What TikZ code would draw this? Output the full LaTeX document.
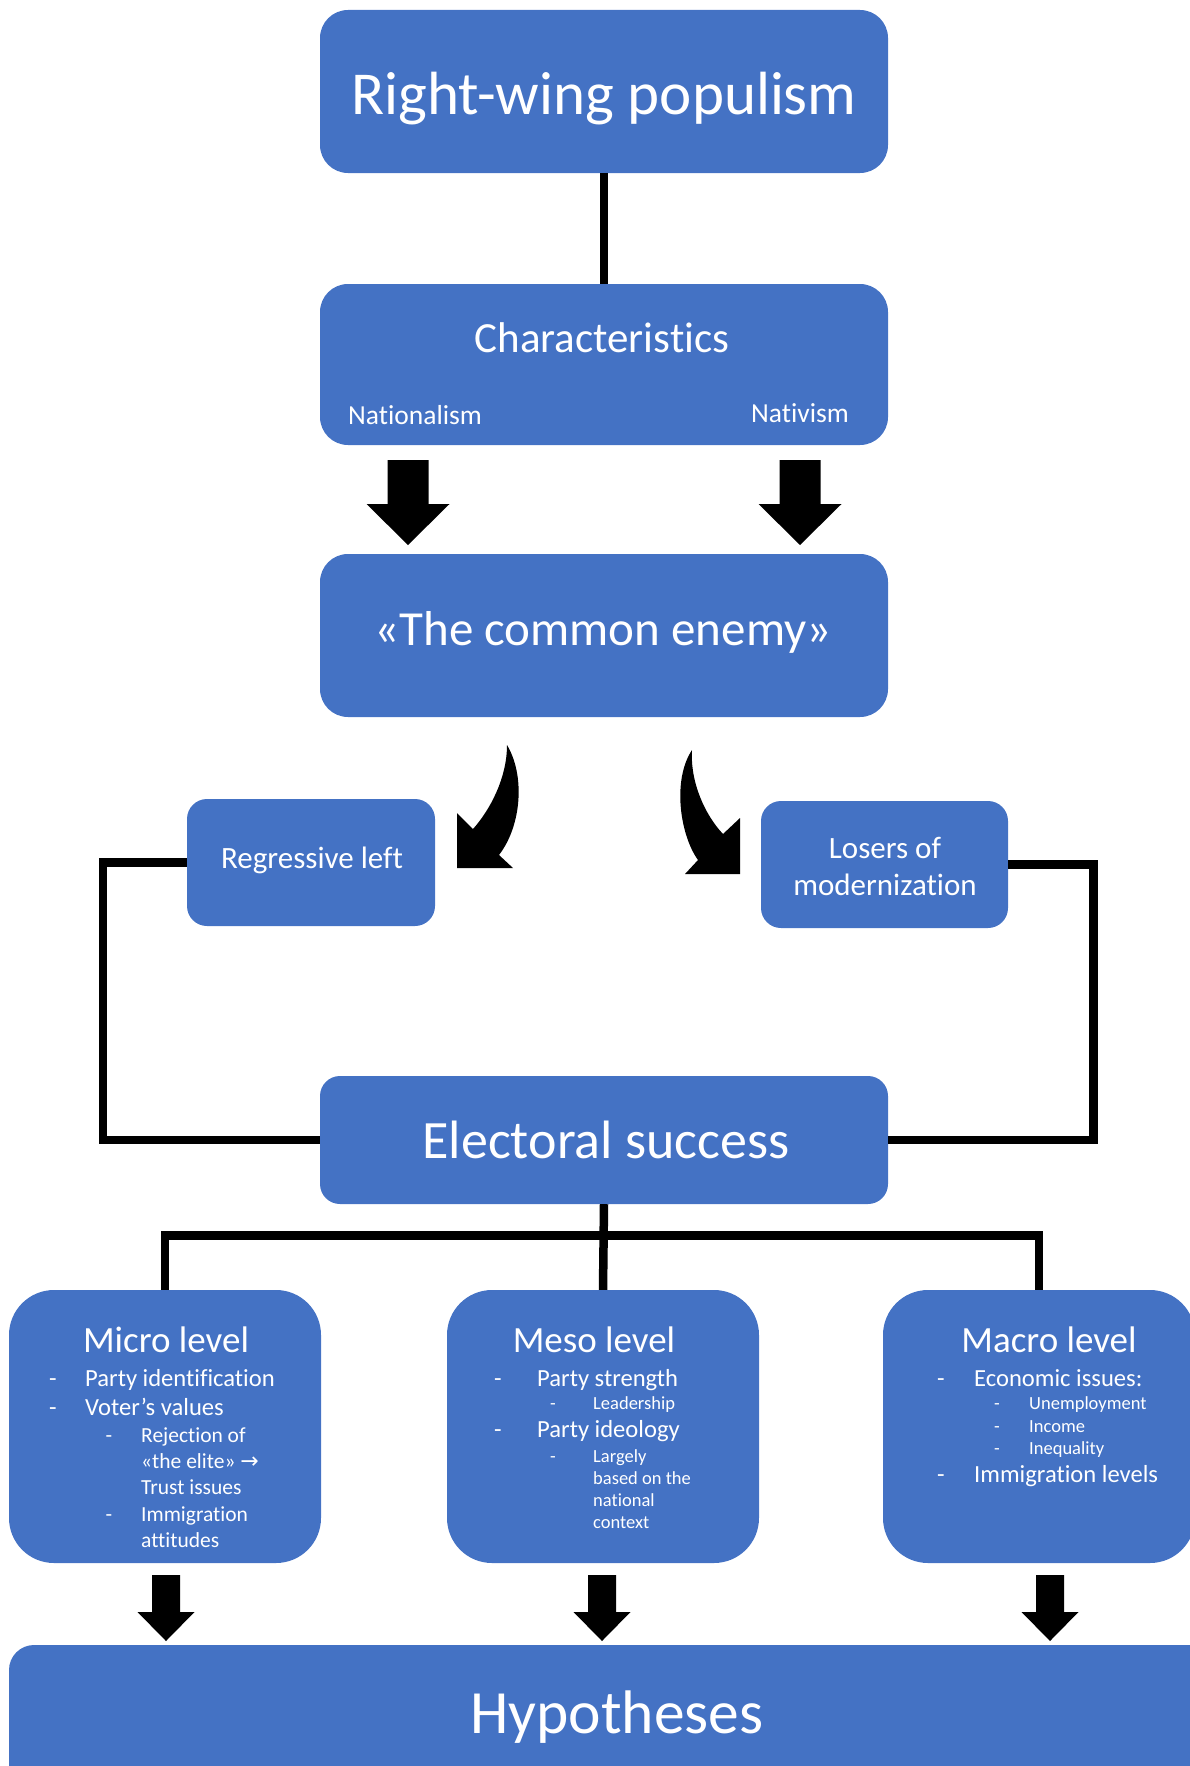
\documentclass[tikz,border=0pt]{standalone}
\usepackage{fontspec}
\setmainfont{Carlito}[RawFeature={-liga;-clig;-dlig}]
\newfontfamily\arrowfont{DejaVu Sans}
\definecolor{boxblue}{HTML}{4472C4}
\newcommand\fsz[1]{\fontsize{#1}{#1}\selectfont}
\newcommand\blockdown[6]{%
  \fill (#1-#5,#2) -- (#1+#5,#2) -- (#1+#5,#3) -- (#1+#6,#3) -- (#1,#4) -- (#1-#6,#3) -- (#1-#5,#3) -- cycle;}
\tikzset{
  box/.style={rectangle, rounded corners=#1, fill=boxblue, draw=none, inner sep=0pt},
  txt/.style={text=white, inner sep=0pt, anchor=base},
  ltxt/.style={text=white, inner sep=0pt, anchor=base west},
  conn/.style={line width=8.5pt, draw=black, line join=miter},
}
\begin{document}
\begin{tikzpicture}[x=1pt,y=-1pt]
\useasboundingbox (0,0) rectangle (1190,1766);

% boxes
\node[box=28, minimum width=568pt, minimum height=163pt] (top) at (604,91.5) {};
\node[box=28, minimum width=568pt, minimum height=161pt] (char) at (604,364.5) {};
\node[box=28, minimum width=568pt, minimum height=163pt] (common) at (604,635.5) {};
\node[box=20, minimum width=248pt, minimum height=127pt] (reg) at (311,862.5) {};
\node[box=20, minimum width=247pt, minimum height=127pt] (los) at (884.5,864.5) {};
\node[box=20, minimum width=568pt, minimum height=128pt] (elec) at (604,1140) {};
\node[box=45, minimum width=312pt, minimum height=273pt] (micro) at (165,1426.5) {};
\node[box=45, minimum width=312pt, minimum height=273pt] (meso) at (603,1426.5) {};
\node[box=45, minimum width=312pt, minimum height=273pt] (macro) at (1039,1426.5) {};
\node[box=25, minimum width=1216pt, minimum height=145pt] (hyp) at (617,1717.5) {};

% connectors
\draw[conn] (top.south) -- (char.north);
\draw[conn] (reg.west) -- ++(-84,0) |- (elec.west);
\draw[conn] (los.east) -- ++(85.5,0) |- (elec.east);
\coordinate (bus) at (603,1235.5);
\draw[conn] (elec.south) -- (meso.north);
\draw[conn] (micro.north) |- (bus) -| (macro.north);

% block arrows
\blockdown{408}{460}{504}{545}{20.5}{41.5}
\blockdown{800}{460}{504}{545}{20.5}{41.5}
\blockdown{166}{1575}{1612}{1641}{14}{28.5}
\blockdown{602}{1575}{1612}{1641}{14}{28.5}
\blockdown{1050}{1575}{1612}{1641}{14}{28.5}

% curved arrows
\fill (507,745) .. controls (525,775) and (522,825) .. (499,855) -- (513,868) -- (457,868) -- (457,813) -- (473,829) .. controls (490,810) and (507,778) .. cycle;
\fill (692,750) .. controls (672,780) and (680,835) .. (698,860) -- (685,874) -- (740,874) -- (740,818) -- (723,834) .. controls (705,815) and (690,782) .. cycle;

% texts
\node[txt, font=\fsz{61}] (ttop) at (604,115) {Right-wing populism};
\node[txt, font=\fsz{43}] (tchar) at (602,352) {Characteristics};
\node[ltxt, font=\fsz{27.5}] (tnat) at (348,424) {Nationalism};
\node[ltxt, font=\fsz{27.5}] (tnativ) at (751,422) {Nativism};
\node[txt, font=\fsz{49}] (tcommon) at (603,645) {«The common enemy»};
\node[txt, font=\fsz{31}] (treg) at (312,868) {Regressive left};
\node[txt, font=\fsz{31}] (tlos1) at (885,858) {Losers of};
\node[txt, font=\fsz{31}] (tlos2) at (885,895) {modernization};
\node[txt, font=\fsz{54}] (telec) at (606,1158) {Electoral success};
\node[txt, font=\fsz{61.5}] (thyp) at (617,1733) {Hypotheses};

% micro
\node[txt, font=\fsz{37}] (tmic) at (166,1352) {Micro level};
\node[txt, font=\fsz{24.6}] (mid1) at (53,1386) {-};
\node[ltxt, font=\fsz{24.6}] (mi1) at (85,1386) {Party identification};
\node[txt, font=\fsz{24.6}] (mid2) at (53,1415) {-};
\node[ltxt, font=\fsz{24.6}] (mi2) at (85,1415) {Voter’s values};
\node[txt, font=\fsz{21.5}] (mid3) at (109,1442) {-};
\node[ltxt, font=\fsz{21.5}] (mi3) at (141,1442) {Rejection of};
\node[ltxt, font=\fsz{21.5}] (mi4) at (141,1468) {«the elite» {\arrowfont\fsz{22}→}};
\node[ltxt, font=\fsz{21.5}] (mi5) at (141,1494) {Trust issues};
\node[txt, font=\fsz{21.5}] (mid4) at (109,1521) {-};
\node[ltxt, font=\fsz{21.5}] (mi6) at (141,1521) {Immigration};
\node[ltxt, font=\fsz{21.5}] (mi7) at (141,1547) {attitudes};

% meso
\node[txt, font=\fsz{37}] (tmes) at (594,1352) {Meso level};
\node[txt, font=\fsz{24.6}] (med1) at (498,1386) {-};
\node[ltxt, font=\fsz{24.6}] (me1) at (537,1386) {Party strength};
\node[txt, font=\fsz{18.5}] (med2) at (553,1409) {-};
\node[ltxt, font=\fsz{18.5}] (me2) at (593,1409) {Leadership};
\node[txt, font=\fsz{24.6}] (med3) at (498,1437) {-};
\node[ltxt, font=\fsz{24.6}] (me3) at (537,1437) {Party ideology};
\node[txt, font=\fsz{18.5}] (med4) at (553,1462) {-};
\node[ltxt, font=\fsz{18.5}] (me4) at (593,1462) {Largely};
\node[ltxt, font=\fsz{18.5}] (me5) at (593,1484) {based on the};
\node[ltxt, font=\fsz{18.5}] (me6) at (593,1506) {national};
\node[ltxt, font=\fsz{18.5}] (me7) at (593,1528) {context};

% macro
\node[txt, font=\fsz{37}] (tmac) at (1049,1352) {Macro level};
\node[txt, font=\fsz{24.6}] (mad1) at (941,1386) {-};
\node[ltxt, font=\fsz{24.6}] (ma1) at (974,1386) {Economic issues:};
\node[txt, font=\fsz{18.5}] (mad2) at (997,1409) {-};
\node[ltxt, font=\fsz{18.5}] (ma2) at (1029,1409) {Unemployment};
\node[txt, font=\fsz{18.5}] (mad3) at (997,1432) {-};
\node[ltxt, font=\fsz{18.5}] (ma3) at (1029,1432) {Income};
\node[txt, font=\fsz{18.5}] (mad4) at (997,1454) {-};
\node[ltxt, font=\fsz{18.5}] (ma4) at (1029,1454) {Inequality};
\node[txt, font=\fsz{24.6}] (mad5) at (941,1482) {-};
\node[ltxt, font=\fsz{24.6}] (ma5) at (974,1482) {Immigration levels};
\end{tikzpicture}
\end{document}
